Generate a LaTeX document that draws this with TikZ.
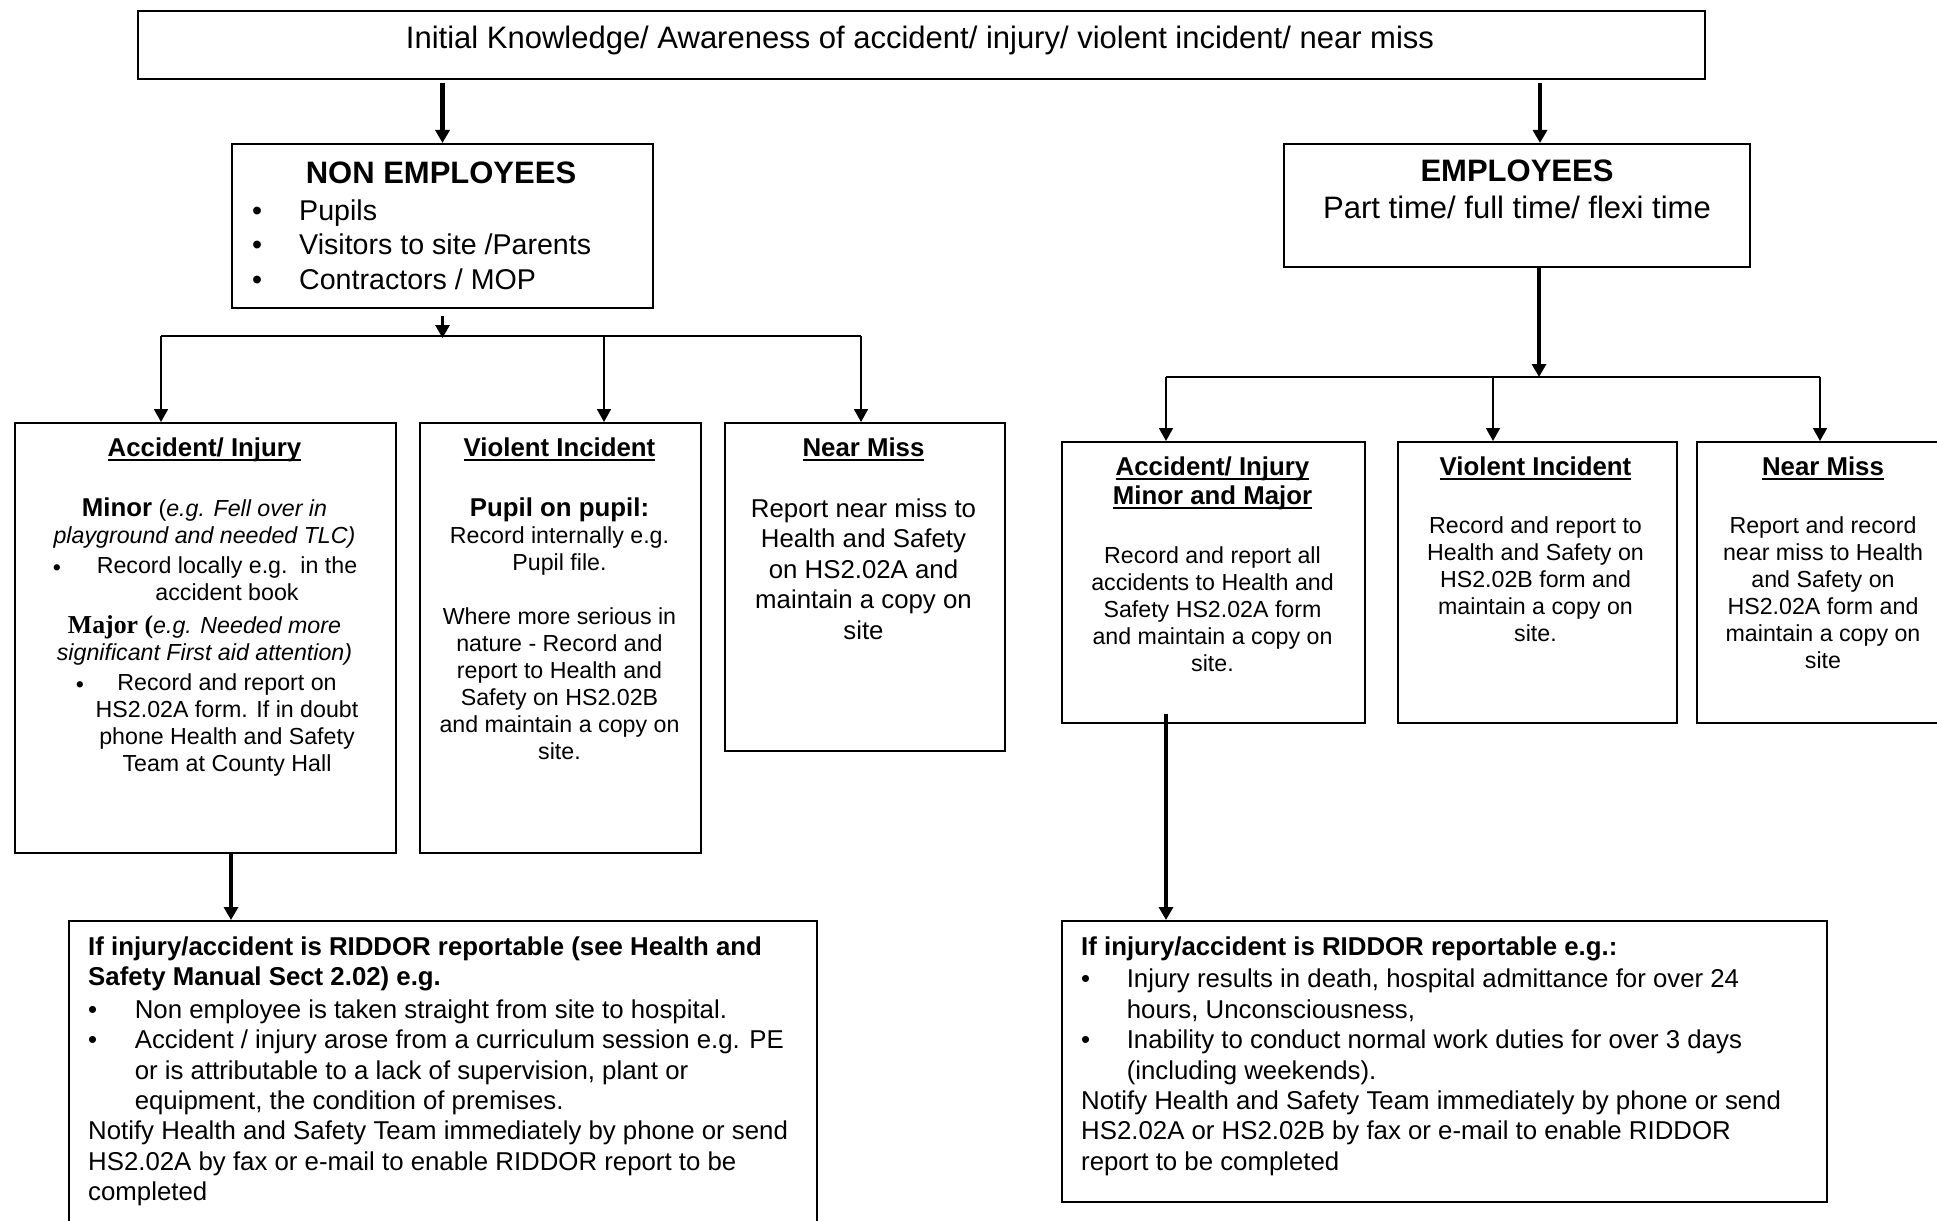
\documentclass[tikz,border=0pt]{standalone}
\usepackage{fontspec}
\setmainfont{Liberation Sans}
\newfontfamily\timesbf{Liberation Serif}
\usetikzlibrary{arrows.meta}
\newcommand{\ulhead}[1]{\setbox0=\hbox{#1}\rlap{\rule[-4.5pt]{\wd0}{2pt}}\box0}
\tikzset{
  >={Triangle[length=13pt,width=14pt]},
  kasten/.style={draw, line width=2pt, inner sep=0pt, anchor=north west},
  linie/.style={line width=1.8pt},
  dick/.style={line width=4.5pt},
  gross/.style={font=\fontsize{31}{34.5}\selectfont, inner sep=0pt},
  mittel/.style={font=\fontsize{25.8}{30.4}\selectfont, inner sep=0pt},
  klein/.style={font=\fontsize{23.2}{27}\selectfont, inner sep=0pt},
}
\begin{document}
\begin{tikzpicture}[x=1pt,y=-1pt]
  \useasboundingbox (0,0) rectangle (1937,1220);
  % Kaesten
  \node [kasten, minimum width=1567pt, minimum height=68pt]  (top)    at (137,10)   {};
  \node [kasten, minimum width=421pt,  minimum height=164pt] (nonemp) at (231,143)  {};
  \node [kasten, minimum width=466pt,  minimum height=123pt] (emp)    at (1283,143) {};
  \node [kasten, minimum width=381pt,  minimum height=430pt] (accL)   at (14,422)   {};
  \node [kasten, minimum width=281pt,  minimum height=430pt] (violL)  at (419,422)  {};
  \node [kasten, minimum width=280pt,  minimum height=328pt] (nearL)  at (724,422)  {};
  \node [kasten, minimum width=303pt,  minimum height=281pt] (accR)   at (1061,441) {};
  \node [kasten, minimum width=279pt,  minimum height=281pt] (violR)  at (1397,441) {};
  \node [kasten, minimum width=256pt,  minimum height=281pt] (nearR)  at (1696,441) {};
  \node [kasten, minimum width=748pt,  minimum height=320pt] (ridL)   at (68,920)   {};
  \node [kasten, minimum width=765pt,  minimum height=281pt] (ridR)   at (1061,920) {};

  % Hilfspunkte
  \coordinate (empin) at ([xshift=23pt]emp.north);
  \coordinate (barL) at ([yshift=-29pt]nonemp.south);
  \coordinate (jL1) at (161,336);
  \coordinate (jL2) at (604,336);
  \coordinate (jL3) at (861,336);
  \coordinate (barR) at (1539,377);
  \coordinate (jR1) at (1166,377);
  \coordinate (jR2) at (1493,377);
  \coordinate (jR3) at (1820,377);
  \coordinate (dL) at (231,920);
  \coordinate (dR) at (1166,920);

  % Pfeile
  \draw [dick, ->] ([yshift=-3pt]top.south -| nonemp.north) -- (nonemp.north);
  \draw [dick, ->] ([yshift=-3pt]top.south -| empin) -- (empin);
  \draw [linie, line width=3pt, ->] ([yshift=-7pt]nonemp.south) -- (barL);
  \draw [linie] (jL1) -- (jL3);
  \draw [linie, ->] (jL1) -- (jL1 |- accL.north);
  \draw [linie, ->] (jL2) -- (jL2 |- violL.north);
  \draw [linie, ->] (jL3) -- (jL3 |- nearL.north);
  \draw [dick, ->] (emp.south -| barR) -- (barR);
  \draw [linie] (jR1) -- (jR3);
  \draw [linie, ->] (jR1) -- (jR1 |- accR.north);
  \draw [linie, ->] (jR2) -- (jR2 |- violR.north);
  \draw [linie, ->] (jR3) -- (jR3 |- nearR.north);
  \draw [dick, ->] (accL.south -| dL) -- (dL);
  \draw [dick, ->] ([yshift=10pt]accR.south -| dR) -- (dR);

  % Texte oben
  \node [gross, anchor=base] (toptxt) at (920,49)
    {Initial Knowledge/ Awareness of accident/ injury/ violent incident/ near miss};
  \node [gross, anchor=base, font=\fontsize{31}{34.5}\selectfont\bfseries] (nonemptitle) at (441,183) {NON EMPLOYEES};
  \node [gross, anchor=north west, align=left, font=\fontsize{28.6}{34.5}\selectfont] (nonemplist) at (252,195.7)
    {\strut\makebox[47pt][l]{\textbullet}Pupils\\
     \makebox[47pt][l]{\textbullet}Visitors to site /Parents\\
     \makebox[47pt][l]{\textbullet}Contractors / MOP};
  \node [gross, anchor=base, font=\fontsize{31}{34.5}\selectfont\bfseries] (emptitle) at (1517,181) {EMPLOYEES};
  \node [gross, anchor=base] (empsub) at (1517,218.4) {Part time/ full time/ flexi time};

  % Nicht-Beschaeftigte
  \node [mittel, anchor=base, font=\fontsize{25.8}{30.4}\selectfont\bfseries] (accLhead) at (204.5,456) {\ulhead{Accident/ Injury}};
  \node [klein, anchor=north, align=center] (accLminor) at (204.5,497.2)
    {\strut{\fontsize{25.8}{27}\selectfont\bfseries Minor} (\textit{e.g. Fell over in}\\
     \textit{playground and needed TLC)}};
  \node [klein, anchor=base] (bulA) at (57,575.6) {\textbullet};
  \node [klein, anchor=north, align=center] (accLrec1) at (227,554.2)
    {\strut Record locally e.g.\ \ in the\\accident book};
  \node [klein, anchor=north, align=center] (accLmajor) at (204.5,614.2)
    {\strut{\timesbf\bfseries\fontsize{25.8}{27}\selectfont Major (}\textit{e.g. Needed more}\\
     \textit{significant First aid attention)}};
  \node [klein, anchor=base] (bulB) at (80,692.9) {\textbullet};
  \node [klein, anchor=north, align=center] (accLrec2) at (227,671.2)
    {\strut Record and report on\\HS2.02A form. If in doubt\\phone Health and Safety\\Team at County Hall};

  \node [mittel, anchor=base, font=\fontsize{25.8}{30.4}\selectfont\bfseries] (violLhead) at (559.5,456) {\ulhead{Violent Incident}};
  \node [klein, anchor=north, align=center] (violLtxt) at (559.5,497.2)
    {\strut{\fontsize{25.8}{27}\selectfont\bfseries Pupil on pupil:}\\
     Record internally e.g.\\Pupil file.\\[27pt]
     Where more serious in\\nature - Record and\\report to Health and\\
     Safety on HS2.02B\\and maintain a copy on\\site.};

  \node [mittel, anchor=base, font=\fontsize{25.8}{30.4}\selectfont\bfseries] (nearLhead) at (863.5,456) {\ulhead{Near Miss}};
  \node [mittel, anchor=north, align=center] (nearLtxt) at (863.5,496)
    {\strut Report near miss to\\Health and Safety\\on HS2.02A and\\maintain a copy on\\site};

  % Beschaeftigte
  \node [mittel, anchor=north, align=center, font=\fontsize{25.8}{29}\selectfont\bfseries] (accRhead) at (1212.5,454.7)
    {\strut\ulhead{Accident/ Injury}\\\ulhead{Minor and Major}};
  \node [klein, anchor=north, align=center] (accRtxt) at (1212.5,544.2)
    {\strut Record and report all\\accidents to Health and\\Safety HS2.02A form\\and maintain a copy on\\site.};

  \node [mittel, anchor=base, font=\fontsize{25.8}{30.4}\selectfont\bfseries] (violRhead) at (1535.5,475) {\ulhead{Violent Incident}};
  \node [klein, anchor=north, align=center] (violRtxt) at (1535.5,514.2)
    {\strut Record and report to\\Health and Safety on\\HS2.02B form and\\maintain a copy on\\site.};

  \node [mittel, anchor=base, font=\fontsize{25.8}{30.4}\selectfont\bfseries] (nearRhead) at (1823,475) {\ulhead{Near Miss}};
  \node [klein, anchor=north, align=center] (nearRtxt) at (1823,514.2)
    {\strut Report and record\\near miss to Health\\and Safety on\\HS2.02A form and\\maintain a copy on\\site};

  % RIDDOR
  \node [mittel, anchor=north west, align=left] (ridLtxt) at (88,934)
    {\strut\textbf{If injury/accident is RIDDOR reportable (see Health and}\\
     \textbf{Safety Manual Sect 2.02) e.g.}\\[2pt]
     \makebox[46.6pt][l]{\textbullet}Non employee is taken straight from site to hospital.\\
     \makebox[46.6pt][l]{\textbullet}Accident / injury arose from a curriculum session e.g. PE\\
     \hspace*{46.6pt}or is attributable to a lack of supervision, plant or\\
     \hspace*{46.6pt}equipment, the condition of premises.\\
     Notify Health and Safety Team immediately by phone or send\\
     HS2.02A by fax or e-mail to enable RIDDOR report to be\\
     completed};
  \node [mittel, anchor=north west, align=left] (ridRtxt) at (1081,934)
    {\strut\textbf{If injury/accident is RIDDOR reportable e.g.:}\\[2pt]
     \makebox[45.6pt][l]{\textbullet}Injury results in death, hospital admittance for over 24\\
     \hspace*{45.6pt}hours, Unconsciousness,\\
     \makebox[45.6pt][l]{\textbullet}Inability to conduct normal work duties for over 3 days\\
     \hspace*{45.6pt}(including weekends).\\
     Notify Health and Safety Team immediately by phone or send\\
     HS2.02A or HS2.02B by fax or e-mail to enable RIDDOR\\
     report to be completed};
\end{tikzpicture}
\end{document}
